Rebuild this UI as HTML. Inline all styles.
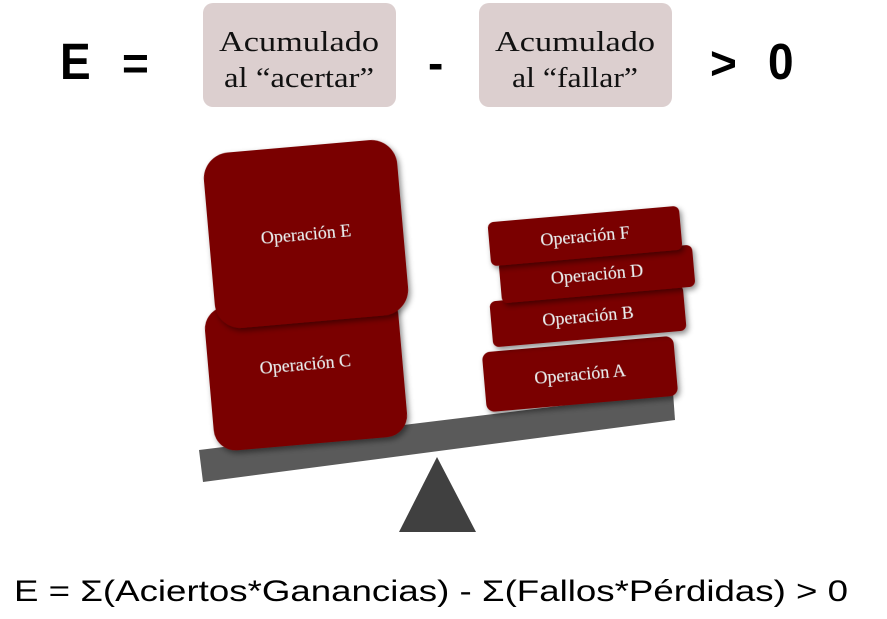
<!DOCTYPE html>
<html><head><meta charset="utf-8"><style>
html,body{margin:0;padding:0;background:#fff;width:887px;height:619px;overflow:hidden}
</style></head><body>
<svg width="887" height="619" xmlns="http://www.w3.org/2000/svg">
<defs>
<filter id="sh" x="-20%" y="-20%" width="140%" height="140%"><feDropShadow dx="2" dy="3" stdDeviation="3" flood-color="#000" flood-opacity="0.45"/></filter>
</defs>
<g font-family="Liberation Sans, sans-serif" font-weight="bold" font-size="46" fill="#000">
<text x="60" y="79" transform="translate(0,-8) scale(1,1.1)">E</text>
<text x="122" y="79">=</text>
<text x="428" y="79">-</text>
<text x="710" y="79">&gt;</text>
<text x="768" y="79" transform="translate(0,-8) scale(1,1.1)">0</text>
</g>
<rect x="203" y="3" width="193" height="104" rx="10" fill="#dccfcf"/>
<rect x="479" y="3" width="193" height="104" rx="10" fill="#dccfcf"/>
<g font-family="Liberation Serif, serif" font-size="29" fill="#111" text-anchor="middle">
<text x="299" y="51" textLength="160" lengthAdjust="spacingAndGlyphs">Acumulado</text>
<text x="299" y="87" textLength="150" lengthAdjust="spacingAndGlyphs">al “acertar”</text>
<text x="575" y="51" textLength="160" lengthAdjust="spacingAndGlyphs">Acumulado</text>
<text x="575" y="87" textLength="126" lengthAdjust="spacingAndGlyphs">al “fallar”</text>
</g>
<polygon points="199,450 673,392 675,420 203,482" fill="#5a5a5a"/>
<polygon points="437,457 476,532 399,532" fill="#404040"/>
<g font-family="Liberation Serif, serif" font-size="18" fill="#eee" text-anchor="middle">
<g transform="translate(306,372) rotate(-5)" filter="url(#sh)"><rect x="-97" y="-72" width="194" height="144" rx="22" fill="#7a0000"/><text x="0" y="-2">Operación C</text></g>
<g transform="translate(306,234) rotate(-5)" filter="url(#sh)"><rect x="-97" y="-88" width="194" height="176" rx="26" fill="#7a0000"/><text x="0" y="6">Operación E</text></g>
<g transform="translate(580,374) rotate(-5)" filter="url(#sh)"><rect x="-96" y="-30" width="192" height="60" rx="8" fill="#7a0000"/><text x="0" y="6">Operación A</text></g>
<g transform="translate(588,316) rotate(-5)" filter="url(#sh)"><rect x="-97" y="-23" width="194" height="46" rx="6" fill="#7a0000"/><text x="0" y="6">Operación B</text></g>
<g transform="translate(597,274) rotate(-5)" filter="url(#sh)"><rect x="-97" y="-21" width="194" height="42" rx="6" fill="#7a0000"/><text x="0" y="6">Operación D</text></g>
<g transform="translate(585,236) rotate(-5)" filter="url(#sh)"><rect x="-96" y="-22" width="192" height="44" rx="6" fill="#7a0000"/><text x="0" y="6">Operación F</text></g>
</g>
<text x="14" y="601" font-family="Liberation Sans, sans-serif" font-size="30" fill="#000" textLength="834" lengthAdjust="spacingAndGlyphs">E = Σ(Aciertos*Ganancias) - Σ(Fallos*Pérdidas) &gt; 0</text>
</svg>
</body></html>
